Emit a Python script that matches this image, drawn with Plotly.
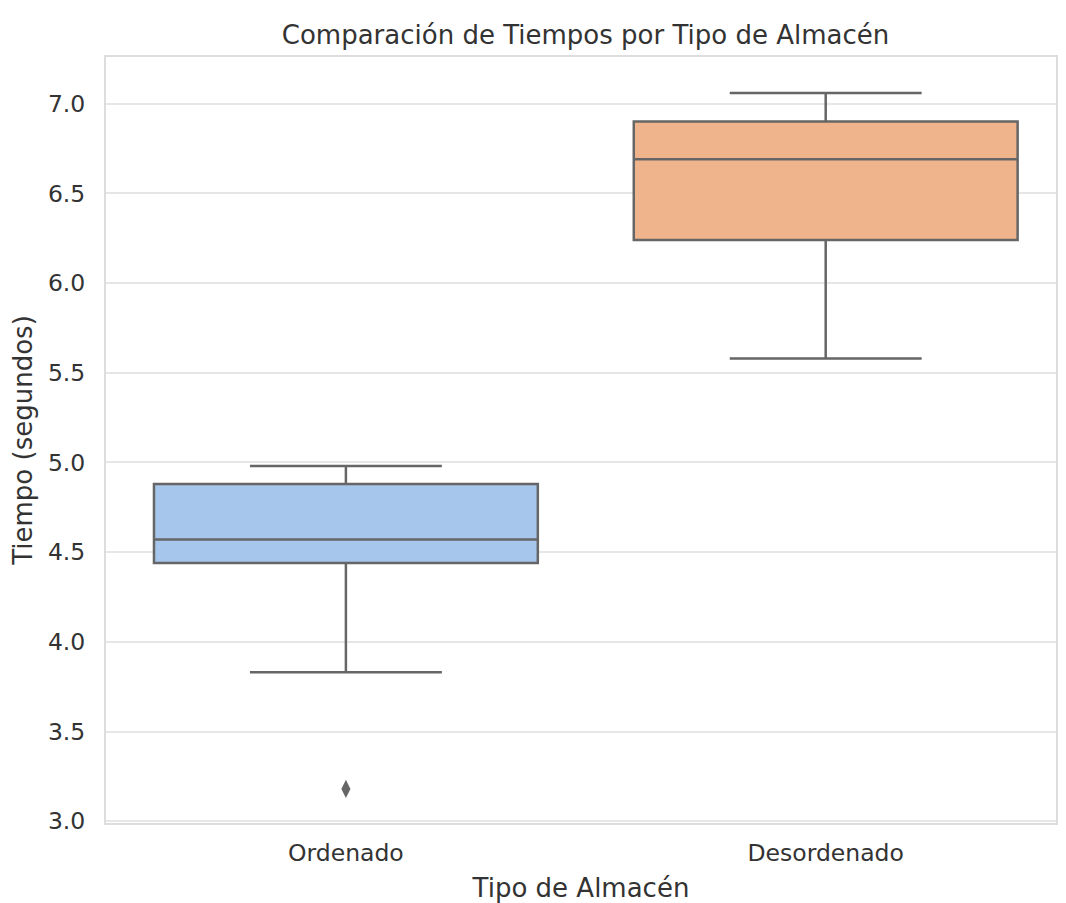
import plotly.graph_objects as go

categories = ["Ordenado", "Desordenado"]
q1_vals = [4.44, 6.24]
median_vals = [4.57, 6.69]
q3_vals = [4.88, 6.90]
lower_whiskers = [3.83, 5.58]
upper_whiskers = [4.98, 7.06]
outlier_cats = ["Ordenado"]
outlier_vals = [3.18]

fill_colors = ["#a7c6ec", "#f0b48c"]
line_color = "#666666"

fig = go.Figure()
for i, cat in enumerate(categories):
    fig.add_trace(go.Box(
        x=[cat],
        q1=[q1_vals[i]],
        median=[median_vals[i]],
        q3=[q3_vals[i]],
        lowerfence=[lower_whiskers[i]],
        upperfence=[upper_whiskers[i]],
        fillcolor=fill_colors[i],
        line=dict(color=line_color, width=2.5),
        width=0.8,
        whiskerwidth=0.5,
        boxpoints=False,
        showlegend=False,
        hoverinfo="skip",
    ))

fig.add_trace(go.Scatter(
    x=outlier_cats,
    y=outlier_vals,
    mode="markers",
    marker=dict(symbol="diamond-tall", size=13, color=line_color),
    showlegend=False,
))

fig.update_layout(
    width=1050,
    height=895,
    margin=dict(l=98, r=0, t=49, b=80),
    paper_bgcolor="white",
    plot_bgcolor="white",
    font=dict(family="DejaVu Sans", color="#333333", size=23),
    title=dict(
        text="Comparación de Tiempos por Tipo de Almacén",
        x=0.55, xanchor="center",
        y=1 - 27 / 895, yanchor="middle",
        font=dict(size=26, color="#333333"),
    ),
    xaxis=dict(
        type="category",
        categoryorder="array",
        categoryarray=categories,
        range=[-0.5, 1.48],
        showgrid=False,
        showline=True,
        linecolor="#dddddd",
        linewidth=2,
        mirror=True,
        ticks="",
        ticklabelstandoff=8,
        tickfont=dict(size=23.5, color="#333333"),
        title=dict(text="Tipo de Almacén", font=dict(size=26, color="#333333"), standoff=14),
        zeroline=False,
    ),
    yaxis=dict(
        range=[2.99, 7.26],
        tickvals=[3.0, 3.5, 4.0, 4.5, 5.0, 5.5, 6.0, 6.5, 7.0],
        ticktext=["3.0", "3.5", "4.0", "4.5", "5.0", "5.5", "6.0", "6.5", "7.0"],
        showgrid=True,
        gridcolor="#e6e6e6",
        gridwidth=1.5,
        showline=True,
        linecolor="#dddddd",
        linewidth=2,
        mirror=True,
        ticks="",
        ticklabelstandoff=14,
        tickfont=dict(size=23.5, color="#333333"),
        title=dict(text="Tiempo (segundos)", font=dict(size=26, color="#333333"), standoff=10),
        zeroline=False,
    ),
)

fig.write_html("out.html")
